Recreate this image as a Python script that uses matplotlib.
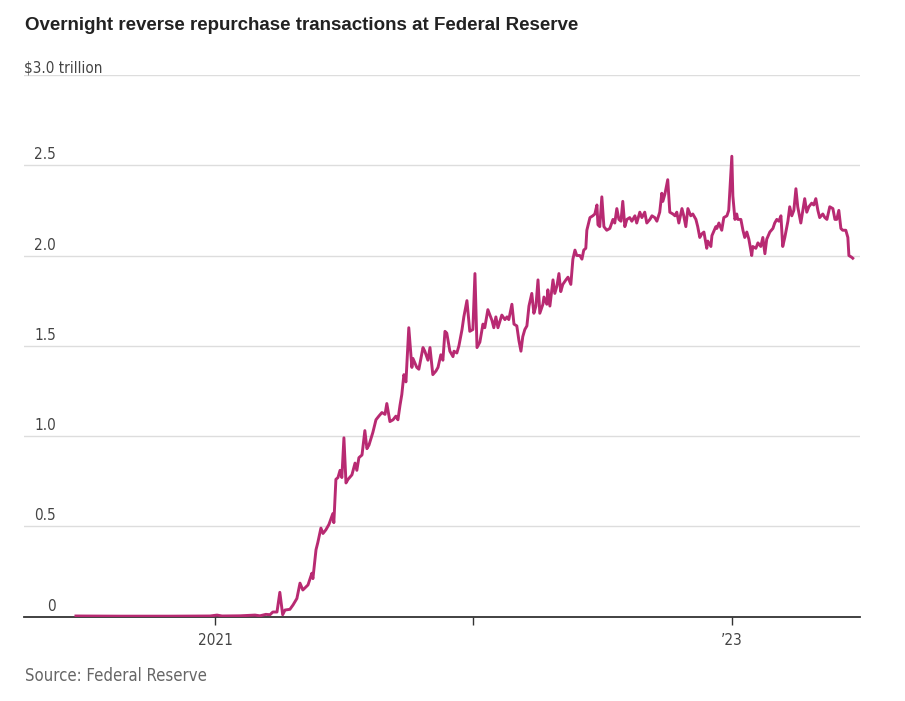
import matplotlib
matplotlib.use('Agg')
import matplotlib.pyplot as plt

# --- data (decimal year, $ trillion) ---
years = [
    2020.462, 2020.632, 2020.826, 2020.981, 2021.008, 2021.027, 2021.097, 2021.155, 2021.174, 2021.197,
    2021.213, 2021.224, 2021.240, 2021.251, 2021.262, 2021.271, 2021.290, 2021.302, 2021.317, 2021.329,
    2021.340, 2021.360, 2021.375, 2021.379, 2021.391, 2021.398, 2021.410, 2021.418, 2021.429, 2021.441,
    2021.456, 2021.460, 2021.468, 2021.476, 2021.484, 2021.491, 2021.499, 2021.507, 2021.515, 2021.530,
    2021.542, 2021.549, 2021.557, 2021.569, 2021.580, 2021.588, 2021.596, 2021.611, 2021.623, 2021.634,
    2021.646, 2021.658, 2021.665, 2021.677, 2021.689, 2021.700, 2021.708, 2021.716, 2021.723, 2021.731,
    2021.739, 2021.750, 2021.762, 2021.766, 2021.781, 2021.789, 2021.805, 2021.812, 2021.824, 2021.832,
    2021.843, 2021.855, 2021.863, 2021.874, 2021.882, 2021.890, 2021.897, 2021.909, 2021.921, 2021.925,
    2021.936, 2021.944, 2021.956, 2021.963, 2021.975, 2021.979, 2021.986, 2021.998, 2022.006, 2022.014,
    2022.025, 2022.037, 2022.044, 2022.056, 2022.072, 2022.079, 2022.087, 2022.095, 2022.110, 2022.122,
    2022.130, 2022.137, 2022.149, 2022.157, 2022.168, 2022.176, 2022.184, 2022.191, 2022.199, 2022.207,
    2022.215, 2022.226, 2022.234, 2022.242, 2022.250, 2022.257, 2022.269, 2022.273, 2022.284, 2022.288,
    2022.296, 2022.308, 2022.315, 2022.323, 2022.331, 2022.338, 2022.346, 2022.358, 2022.366, 2022.377,
    2022.385, 2022.393, 2022.400, 2022.412, 2022.420, 2022.427, 2022.435, 2022.439, 2022.451, 2022.462,
    2022.470, 2022.478, 2022.482, 2022.489, 2022.497, 2022.505, 2022.516, 2022.528, 2022.540, 2022.547,
    2022.555, 2022.563, 2022.571, 2022.578, 2022.586, 2022.594, 2022.605, 2022.613, 2022.625, 2022.632,
    2022.644, 2022.652, 2022.663, 2022.671, 2022.683, 2022.691, 2022.702, 2022.710, 2022.721, 2022.729,
    2022.733, 2022.741, 2022.752, 2022.760, 2022.772, 2022.780, 2022.787, 2022.795, 2022.807, 2022.814,
    2022.822, 2022.830, 2022.841, 2022.849, 2022.861, 2022.868, 2022.876, 2022.884, 2022.892, 2022.903,
    2022.907, 2022.919, 2022.923, 2022.938, 2022.942, 2022.950, 2022.961, 2022.969, 2022.981, 2022.988,
    2023.000, 2023.004, 2023.012, 2023.019, 2023.023, 2023.035, 2023.043, 2023.050, 2023.058, 2023.066,
    2023.077, 2023.081, 2023.093, 2023.101, 2023.112, 2023.120, 2023.128, 2023.135, 2023.147, 2023.159,
    2023.166, 2023.174, 2023.182, 2023.190, 2023.197, 2023.205, 2023.217, 2023.224, 2023.232, 2023.240,
    2023.248, 2023.255, 2023.267, 2023.275, 2023.282, 2023.290, 2023.298, 2023.309, 2023.317, 2023.325,
    2023.333, 2023.340, 2023.352, 2023.360, 2023.368, 2023.379, 2023.391, 2023.399, 2023.406, 2023.414,
    2023.422, 2023.429, 2023.441, 2023.449, 2023.453, 2023.464, 2023.468,
]
values = [
    0.003, 0.002, 0.002, 0.003, 0.008, 0.003, 0.004, 0.008, 0.004, 0.012,
    0.010, 0.025, 0.025, 0.134, 0.010, 0.036, 0.040, 0.064, 0.100, 0.185,
    0.147, 0.175, 0.240, 0.210, 0.370, 0.410, 0.490, 0.460, 0.480, 0.510,
    0.570, 0.520, 0.760, 0.770, 0.810, 0.770, 0.990, 0.740, 0.760, 0.785,
    0.850, 0.810, 0.880, 0.895, 1.030, 0.930, 0.950, 1.020, 1.090, 1.110,
    1.130, 1.120, 1.180, 1.080, 1.090, 1.110, 1.090, 1.170, 1.230, 1.340,
    1.300, 1.600, 1.380, 1.430, 1.380, 1.370, 1.490, 1.470, 1.420, 1.490,
    1.340, 1.360, 1.380, 1.450, 1.420, 1.580, 1.570, 1.470, 1.440, 1.470,
    1.460, 1.500, 1.590, 1.660, 1.750, 1.690, 1.580, 1.590, 1.900, 1.490,
    1.520, 1.620, 1.600, 1.700, 1.640, 1.600, 1.660, 1.600, 1.670, 1.645,
    1.660, 1.645, 1.730, 1.620, 1.610, 1.530, 1.470, 1.550, 1.590, 1.610,
    1.720, 1.790, 1.680, 1.720, 1.865, 1.680, 1.730, 1.770, 1.730, 1.810,
    1.720, 1.865, 1.790, 1.830, 1.900, 1.800, 1.840, 1.865, 1.880, 1.840,
    1.980, 2.030, 2.000, 2.000, 1.980, 2.030, 2.040, 2.140, 2.210, 2.220,
    2.230, 2.280, 2.170, 2.160, 2.325, 2.160, 2.140, 2.150, 2.200, 2.180,
    2.260, 2.200, 2.190, 2.300, 2.160, 2.200, 2.210, 2.190, 2.220, 2.180,
    2.240, 2.210, 2.240, 2.180, 2.200, 2.220, 2.210, 2.190, 2.240, 2.345,
    2.300, 2.340, 2.420, 2.240, 2.230, 2.220, 2.240, 2.180, 2.260, 2.220,
    2.160, 2.260, 2.220, 2.230, 2.200, 2.160, 2.100, 2.120, 2.130, 2.040,
    2.080, 2.050, 2.110, 2.160, 2.150, 2.180, 2.140, 2.210, 2.220, 2.250,
    2.550, 2.330, 2.200, 2.230, 2.200, 2.200, 2.140, 2.100, 2.130, 2.090,
    2.000, 2.050, 2.040, 2.070, 2.050, 2.100, 2.010, 2.090, 2.130, 2.150,
    2.180, 2.200, 2.190, 2.220, 2.050, 2.100, 2.190, 2.270, 2.220, 2.250,
    2.370, 2.270, 2.180, 2.250, 2.315, 2.240, 2.270, 2.290, 2.280, 2.315,
    2.250, 2.210, 2.230, 2.210, 2.200, 2.270, 2.260, 2.200, 2.200, 2.250,
    2.150, 2.140, 2.140, 2.100, 2.000, 1.990, 1.985,
]
yticks = [0, 0.5, 1.0, 1.5, 2.0, 2.5, 3.0]
ytick_labels = ['0', '0.5', '1.0', '1.5', '2.0', '2.5', '$3.0 trillion']
xticks = [2021, 2022, 2023]
xtick_labels = ['2021', '', '\u201923']

plt.rcParams['font.family'] = ['DejaVu Sans']
plt.rcParams['font.stretch'] = 'condensed'

fig = plt.figure(figsize=(9.05, 7.01), dpi=100)
ax = fig.add_axes([0.0265, 0.1205, 0.9235, 0.7725])

ax.plot(years, values, color='#b82a72', lw=2.1, solid_joinstyle='round', zorder=3)

ax.set_xlim(2020.261, 2023.495)
ax.set_ylim(0, 3.0)

for s in ['top', 'right', 'left']:
    ax.spines[s].set_visible(False)
ax.spines['bottom'].set_color('#333333')
ax.spines['bottom'].set_linewidth(1.3)

ax.set_yticks(yticks)
ax.set_yticklabels([])
ax.tick_params(axis='y', length=0)
ax.grid(axis='y', color='#dddddd', lw=1.0, zorder=0)

for v, lab in zip(yticks, ytick_labels):
    if v == 3.0:
        ax.text(0.0, v, lab, transform=ax.get_yaxis_transform(), ha='left', va='bottom',
                fontsize=11, color='#444444')
    else:
        ax.annotate(lab, (0, v), xycoords=('axes fraction', 'data'), xytext=(32, 3),
                    textcoords='offset pixels', ha='right', va='bottom', fontsize=11,
                    color='#444444')

ax.set_xticks(xticks)
ax.set_xticklabels(xtick_labels, fontsize=11, color='#444444')
ax.tick_params(axis='x', length=6, width=1.0, color='#333333', pad=6)

fig.text(0.0276, 0.963, 'Overnight reverse repurchase transactions at Federal Reserve',
         fontsize=13.5, fontweight='bold', color='#222222', ha='left', va='center',
         family=['Liberation Sans', 'DejaVu Sans'], fontstretch='normal')
fig.text(0.0276, 0.035, 'Source: Federal Reserve', fontsize=12, color='#666666',
         ha='left', va='center')

fig.savefig('out.png', dpi=100)
